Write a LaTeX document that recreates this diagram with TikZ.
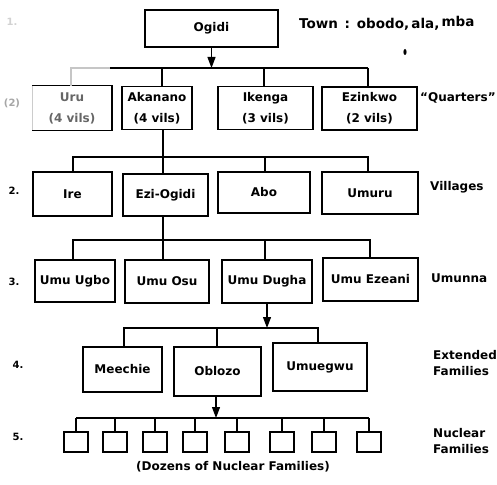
\documentclass[tikz,border=0pt]{standalone}
\usepackage{fontspec}
\setmainfont{DejaVu Sans}
\usetikzlibrary{arrows.meta}
\begin{document}
\begin{tikzpicture}[x=1pt,y=-1pt,
  box/.style={draw, line width=1.5pt, inner sep=0pt, align=center,
    font=\fontsize{12}{21}\selectfont\bfseries},
  nbox/.style={draw, line width=1.5pt, minimum width=24pt, minimum height=20pt, inner sep=0pt},
  lnk/.style={line width=1.2pt},
  faint/.style={line width=1.2pt, gray!45},
  arr/.style={lnk, -{Triangle[length=11pt,width=8pt]}},
  lab/.style={anchor=west, align=left, inner sep=0pt,
    font=\fontsize{12}{16}\selectfont\bfseries},
  lvl/.style={inner sep=0pt, font=\fontsize{10}{12}\selectfont\bfseries}]
\useasboundingbox (0,0) rectangle (497,484);

% ---- town ----
\node[box, minimum width=133pt, minimum height=37pt] (ogidi) at (211.5,28.5) {Ogidi};
\node[lab, font=\fontsize{13.5}{16}\selectfont\bfseries] (town) at (299,23)
  {Town\enspace:\enspace obodo,\,ala,\,\raisebox{2pt}{mba}};
\fill (405,52) ellipse (1.6 and 3);

% ---- quarters ----
\node[box, draw=none, text=black!60, minimum width=78pt, minimum height=43pt] (uru) at (72,108) {Uru\\(4 vils)};
\draw[line width=1.5pt] (uru.north west) -- (uru.north east) -- (uru.south east) -- (uru.south west);
\draw[line width=1.5pt, gray!40] (uru.north west) -- (uru.south west);
\node[box, minimum width=70pt, minimum height=43pt] (akanano) at (157,108) {Akanano\\(4 vils)};
\node[box, minimum width=95pt, minimum height=43pt] (ikenga) at (265.5,108) {Ikenga\\(3 vils)};
\node[box, minimum width=95pt, minimum height=43pt] (ezinkwo) at (369.5,108.5) {Ezinkwo\\(2 vils)};
\node[lab] (quarters) at (420,98) {“Quarters”};

\coordinate (b1a) at (71,68);
\coordinate (b1m) at (110,68);
\coordinate (b1o) at (211.5,68);
\coordinate (b1b) at (162,68);
\coordinate (b1c) at (264,68);
\coordinate (b1d) at (368,68);
\draw[arr] (ogidi.south) -- (b1o);
\draw[faint] (b1a |- uru.north) -- (b1a) -- (b1m);
\draw[lnk] (b1m) -- (b1d);
\draw[lnk] (b1b) -- (b1b |- akanano.north);
\draw[lnk] (b1c) -- (b1c |- ikenga.north);
\draw[lnk] (b1d) -- (b1d |- ezinkwo.north);

% ---- villages ----
\node[box, minimum width=79pt, minimum height=44pt] (ire) at (72.5,194) {Ire};
\node[box, minimum width=85pt, minimum height=42pt] (ezi) at (165.5,195) {Ezi-Ogidi};
\node[box, minimum width=92pt, minimum height=41pt] (abo) at (264,192.5) {Abo};
\node[box, minimum width=96pt, minimum height=42pt] (umuru) at (370,193) {Umuru};
\node[lab] (villages) at (430,187) {Villages};

\coordinate (b2a) at (73,157);
\coordinate (b2b) at (163,157);
\coordinate (b2c) at (265,157);
\coordinate (b2d) at (368,157);
\draw[lnk] (b2b |- akanano.south) -- (b2b);
\draw[lnk] (b2a |- ire.north) -- (b2a) -- (b2d) -- (b2d |- umuru.north);
\draw[lnk] (b2b) -- (b2b |- ezi.north);
\draw[lnk] (b2c) -- (b2c |- abo.north);

% ---- umunna ----
\node[box, minimum width=80pt, minimum height=42pt] (ugbo) at (75,281) {Umu Ugbo};
\node[box, minimum width=84pt, minimum height=43pt] (osu) at (167,281.5) {Umu Osu};
\node[box, minimum width=90pt, minimum height=43pt] (dugha) at (267,281.5) {Umu Dugha};
\node[box, minimum width=95pt, minimum height=43pt] (ezeani) at (370.5,279.5) {Umu Ezeani};
\node[lab] (umunna) at (431,278) {Umunna};

\coordinate (b3a) at (73,240);
\coordinate (b3b) at (163,240);
\coordinate (b3c) at (265,240);
\coordinate (b3d) at (370,240);
\draw[lnk] (b3b |- ezi.south) -- (b3b);
\draw[lnk] (b3a |- ugbo.north) -- (b3a) -- (b3d) -- (b3d |- ezeani.north);
\draw[lnk] (b3b) -- (b3b |- osu.north);
\draw[lnk] (b3c) -- (b3c |- dugha.north);

% ---- extended families ----
\node[box, minimum width=79pt, minimum height=45pt] (meechie) at (122.5,369.5) {Meechie};
\node[box, minimum width=87pt, minimum height=49pt] (oblozo) at (217.5,371.5) {Oblozo};
\node[box, minimum width=94pt, minimum height=48pt] (umuegwu) at (320,367) {Umuegwu};
\node[lab] (extended) at (433,363) {Extended\\Families};

\coordinate (b4a) at (124,328);
\coordinate (b4b) at (217,328);
\coordinate (b4c) at (318,328);
\coordinate (b4o) at (267,328);
\draw[arr] (dugha.south) -- (b4o);
\draw[lnk] (b4a |- meechie.north) -- (b4a) -- (b4c) -- (b4c |- umuegwu.north);
\draw[lnk] (b4b) -- (b4b |- oblozo.north);

% ---- nuclear families ----
\foreach \i/\x in {1/76,2/115,3/155,4/195,5/237,6/282,7/324,8/369}{
  \node[nbox] (n\i) at (\x,442) {};
  \coordinate (d\i) at (\x,418);
  \draw[lnk] (d\i) -- (n\i.north);
}
\coordinate (b5o) at (216,418);
\draw[lnk] (d1) -- (d8);
\draw[arr] (b5o |- oblozo.south) -- (b5o);
\node[lab] (nuclear) at (433,441) {Nuclear\\Families};
\node[lab, anchor=center] (dozens) at (233,467) {(Dozens of Nuclear Families)};

% ---- level numbers ----
\node[lvl, text=gray!35] (l1) at (12,22) {1.};
\node[lvl, text=gray!70] (l2q) at (12,103) {(2)};
\node[lvl] (l2) at (14,191) {2.};
\node[lvl] (l3) at (14,282) {3.};
\node[lvl] (l4) at (18,365) {4.};
\node[lvl] (l5) at (18,437) {5.};
\end{tikzpicture}
\end{document}
